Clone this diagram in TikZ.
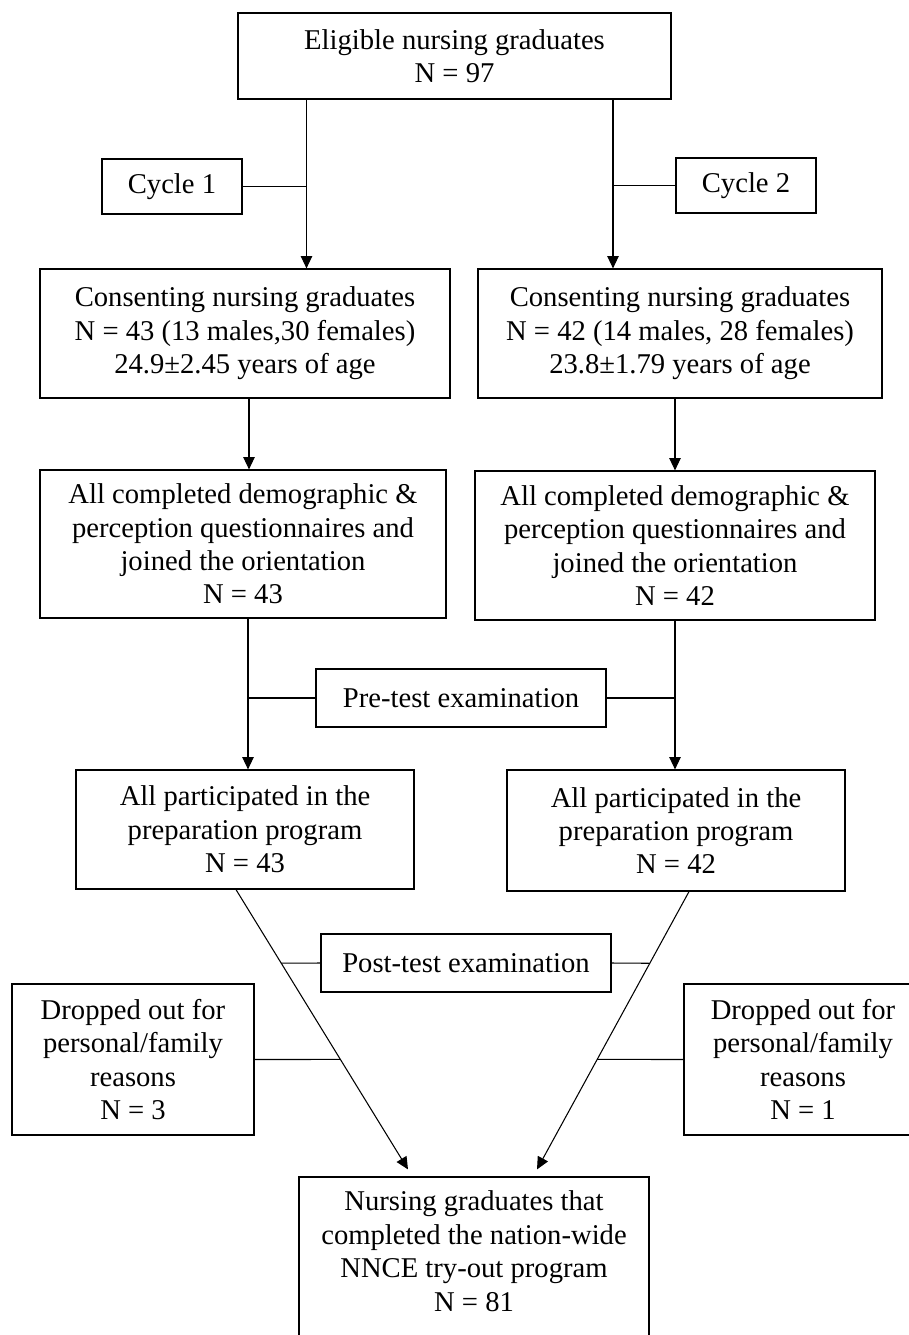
\documentclass[tikz,border=0pt]{standalone}
\usepackage{fontspec}
\setmainfont{Liberation Serif}
\usetikzlibrary{arrows.meta, calc}

\begin{document}
\begin{tikzpicture}[x=0.02cm, y=-0.02cm, >={Triangle[length=7pt, width=6.5pt]},
  box/.style={draw, line width=0.7pt, align=center, inner sep=0pt, font=\fontsize{16.3}{19}\selectfont},
  link/.style={line width=0.6pt}]
  \useasboundingbox (0,0) rectangle (909,1335);
  % top box and the two cycles
  \node[box, minimum width=8.66cm, minimum height=1.72cm] (elig) at (454.5,56) {Eligible nursing graduates\\N = 97};
  \node[box, minimum width=2.8cm, minimum height=1.1cm] (cycA) at (172,186.5) {Cycle 1};
  \node[box, minimum width=2.8cm, minimum height=1.1cm] (cycB) at (746,185.5) {Cycle 2};
  % consenting graduates
  \node[box, minimum width=8.2cm, minimum height=2.58cm] (consL) at (245,333.5) {Consenting nursing graduates\\N = 43 (13 males,30 females)\\24.9±2.45 years of age};
  \node[box, minimum width=8.08cm, minimum height=2.58cm] (consR) at (680,333.5) {Consenting nursing graduates\\N = 42 (14 males, 28 females)\\23.8±1.79 years of age};
  % questionnaires
  \node[box, minimum width=8.12cm, minimum height=2.96cm] (demoL) at (243,544) {All completed demographic \&\\perception questionnaires and\\joined the orientation\\N = 43};
  \node[box, minimum width=8.0cm, minimum height=2.98cm] (demoR) at (675,545.5) {All completed demographic \&\\perception questionnaires and\\joined the orientation\\N = 42};
  \node[box, minimum width=5.8cm, minimum height=1.16cm] (preT) at (461,698) {Pre-test examination};
  % preparation program
  \node[box, minimum width=6.76cm, minimum height=2.38cm] (prepL) at (245,829.5) {All participated in the\\preparation program\\N = 43};
  \node[box, minimum width=6.76cm, minimum height=2.42cm] (prepR) at (676,830.5) {All participated in the\\preparation program\\N = 42};
  \node[box, minimum width=5.8cm, minimum height=1.16cm] (postT) at (466,963) {Post-test examination};
  % drop-outs
  \node[box, minimum width=4.84cm, minimum height=3.02cm] (dropL) at (133,1059.5) {Dropped out for\\personal/family\\reasons\\N = 3};
  \node[box, minimum width=4.76cm, minimum height=3.02cm] (dropR) at (803,1059.5) {Dropped out for\\personal/family\\reasons\\N = 1};
  % final box (runs past the bottom edge)
  \node[box, minimum width=7.0cm, minimum height=3.36cm, text depth=0.4cm] (fin) at (474,1261) {Nursing graduates that\\completed the nation-wide\\NNCE try-out program\\N = 81};

  % line positions
  \coordinate (xA) at (306.5,0);
  \coordinate (xB) at (613,0);
  \coordinate (xC) at (249,0);
  \coordinate (xD) at (675,0);
  \coordinate (xE) at (248,0);
  \draw[link, ->] (elig.south -| xA) -- (consL.north -| xA);
  \draw[link, ->] (elig.south -| xB) -- (consR.north -| xB);
  \draw[link] (cycA.east) -- (cycA.east -| xA);
  \draw[link] (cycB.west) -- (cycB.west -| xB);
  \draw[link, ->] (consL.south -| xC) -- (demoL.north -| xC);
  \draw[link, ->] (consR.south -| xD) -- (demoR.north -| xD);
  \draw[link, ->] (demoL.south -| xE) -- (prepL.north -| xE);
  \draw[link, ->] (demoR.south -| xD) -- (prepR.north -| xD);
  \draw[link] (preT.west) -- (preT.west -| xE);
  \draw[link] (preT.east) -- (preT.east -| xD);
  % diagonals into the final box
  \coordinate (sL) at ($(prepL.south)+(-9,0)$);
  \coordinate (tL) at ($(fin.north)+(-66,-7)$);
  \coordinate (sR) at ($(prepR.south)+(13,0)$);
  \coordinate (tR) at ($(fin.north)+(63,-7)$);
  \draw[link, ->] (sL) -- (tL);
  \draw[link, ->] (sR) -- (tR);
  \draw[link] (postT.west) -- ($(sL)!0.263!(tL)$);
  \draw[link] (postT.east) -- ($(sR)!0.258!(tR)$);
  \draw[link] (dropL.east) -- ($(sL)!0.607!(tL)$);
  \draw[link] (dropR.west) -- ($(sR)!0.604!(tR)$);
\end{tikzpicture}
\end{document}
